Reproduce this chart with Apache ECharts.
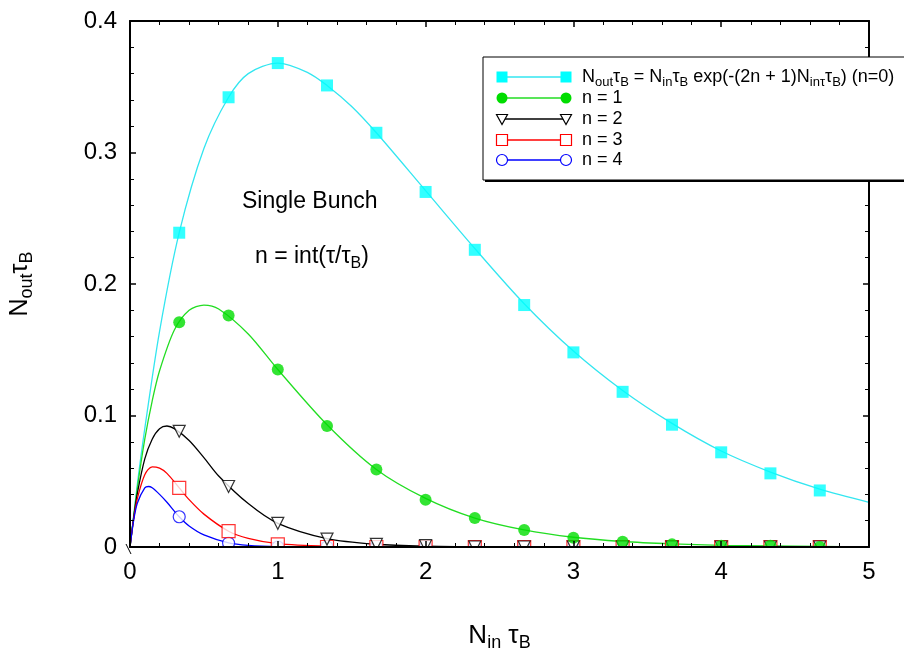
<!DOCTYPE html>
<html><head><meta charset="utf-8">
<script src="https://cdn.jsdelivr.net/npm/echarts@6/dist/echarts.min.js"></script>
<style>html,body{margin:0;padding:0;background:#fff}#c{width:904px;height:659px}</style>
</head><body><div id="c"></div>
<script>
// Marker positions (N_in tau_B) and values
const markerX = [0.333, 0.667, 1.0, 1.333, 1.667, 2.0, 2.333, 2.667, 3.0, 3.333, 3.667, 4.0, 4.333, 4.667];
const mark0 = [0.239, 0.342, 0.368, 0.351, 0.315, 0.270, 0.226, 0.184, 0.148, 0.118, 0.093, 0.072, 0.056, 0.043];
const mark1 = [0.171, 0.176, 0.135, 0.092, 0.059, 0.036, 0.022, 0.013, 0.007, 0.004, 0.002, 0.001, 0.001, 0.000];
const mark2 = [0.088, 0.046, 0.018, 0.006, 0.002, 0.001, 0.000, 0.000, 0.000, 0.000, 0.000, 0.000, 0.000, 0.000];
const mark3 = [0.045, 0.012, 0.002, 0.000, 0.000, 0.000, 0.000, 0.000, 0.000, 0.000, 0.000, 0.000, 0.000, 0.000];
const mark4 = [0.023, 0.003, 0.000, 0.000, 0.000, 0.000, 0.000, 0.000, 0.000, 0.000, 0.000, 0.000, 0.000, 0.000];

// Curve samples
const curve0X = [0, 0.05, 0.1, 0.2, 0.333, 0.5, 0.667, 0.8, 1.0, 1.2, 1.333, 1.5, 1.667, 2.0, 2.333, 2.667, 3.0, 3.333, 3.667, 4.0, 4.333, 4.667, 5.0];
const curve0Y = [0, 0.048, 0.090, 0.164, 0.239, 0.303, 0.342, 0.360, 0.368, 0.361, 0.351, 0.335, 0.315, 0.271, 0.227, 0.185, 0.149, 0.119, 0.094, 0.073, 0.057, 0.044, 0.034];
const curve1X = [0, 0.05, 0.1, 0.15, 0.2, 0.3, 0.4, 0.5, 0.6, 0.8, 1.0, 1.333, 1.667, 2.0, 2.333, 2.667, 3.0, 3.333, 3.667, 4.0, 4.333, 4.667, 5.0];
const curve1Y = [0, 0.045, 0.082, 0.111, 0.134, 0.165, 0.180, 0.184, 0.181, 0.162, 0.135, 0.093, 0.059, 0.037, 0.022, 0.013, 0.0074, 0.0042, 0.0024, 0.0013, 0.0008, 0.0004, 0.0002];
const curve2X = [0, 0.025, 0.05, 0.1, 0.15, 0.2, 0.25, 0.3, 0.4, 0.5, 0.6, 0.8, 1.0, 1.333, 1.667, 2.0, 2.5, 3.0, 4.0, 5.0];
const curve2Y = [0, 0.0226, 0.041, 0.067, 0.082, 0.090, 0.092, 0.090, 0.081, 0.068, 0.054, 0.033, 0.018, 0.0064, 0.0021, 0.0007, 0.0001, 0, 0, 0];
const curve3X = [0, 0.025, 0.05, 0.1, 0.15, 0.2, 0.25, 0.333, 0.4, 0.5, 0.667, 0.8, 1.0, 1.333, 1.667, 2.0, 3.0, 4.0, 5.0];
const curve3Y = [0, 0.0215, 0.037, 0.055, 0.061, 0.060, 0.056, 0.045, 0.036, 0.025, 0.012, 0.0066, 0.0025, 0.0005, 0.0001, 0, 0, 0, 0];
const curve4X = [0, 0.025, 0.05, 0.1, 0.125, 0.15, 0.2, 0.25, 0.333, 0.4, 0.5, 0.667, 0.8, 1.0, 1.333, 2.0, 3.0, 4.0, 5.0];
const curve4Y = [0, 0.0205, 0.0335, 0.045, 0.046, 0.045, 0.040, 0.034, 0.023, 0.016, 0.0092, 0.0032, 0.0013, 0.0003, 0, 0, 0, 0, 0];

const xTicks = [0, 1, 2, 3, 4, 5];
const yTicks = [0, 0.1, 0.2, 0.3, 0.4];

const pair = (xs, ys) => xs.map((x, i) => [x, ys[i]]);

const chart = echarts.init(document.getElementById('c'));
const F = 'Liberation Sans, Arial, sans-serif';

const axisCommon = {
  type: 'value', z: 100,
  axisLine: {show: true, onZero: false, lineStyle: {color: '#000', width: 2}},
  axisTick: {show: true, inside: true, length: 6, lineStyle: {color: '#000', width: 1.5}},
  minorTick: {show: true, splitNumber: 5, length: 4, lineStyle: {color: '#000', width: 1}},
  splitLine: {show: false},
};

const colors = ['#00FFFF', '#00DD00', '#000000', '#FF0000', '#0000FF'];
const lineColors = ['#33E6F0', '#22DD22', '#000000', '#FF0000', '#0000FF'];
const curves = [pair(curve0X, curve0Y), pair(curve1X, curve1Y), pair(curve2X, curve2Y), pair(curve3X, curve3Y), pair(curve4X, curve4Y)];
const marks = [mark0, mark1, mark2, mark3, mark4];
const names = ['n = 0', 'n = 1', 'n = 2', 'n = 3', 'n = 4'];
const symbols = ['rect', 'circle', 'triangle', 'rect', 'circle'];
const sizes = [12, 12, 12, 13, 12];
const filled = [true, true, false, false, false];

const series = [];
for (let i = 0; i < 5; i++) {
  series.push({
    name: names[i] + ' curve', type: 'line', smooth: 0.3, showSymbol: false, silent: true,
    data: curves[i], lineStyle: {color: lineColors[i], width: 1.3}, z: 2,
  });
}
for (let i = 4; i >= 0; i--) {
  series.push({
    name: names[i], type: 'scatter', symbol: symbols[i], symbolSize: sizes[i],
    symbolRotate: i === 2 ? 180 : 0,
    data: pair(markerX, marks[i]),
    itemStyle: filled[i] ? {color: colors[i]} : {color: '#fff', borderColor: colors[i], borderWidth: 1.2},
    z: 3,
  });
}

// legend drawn as graphic (symbols at both ends of the line sample)
const legItems = [];
const lx0 = 502, lx1 = 566;
const legRows = [77, 98, 119, 140, 160];
const legTexts = [
  'N{sub|out}τ{sub|B} = N{sub|in}τ{sub|B} exp(-(2n + 1)N{sub|inτ}τ{sub|B}) (n=0)',
  'n = 1', 'n = 2', 'n = 3', 'n = 4'
];
legItems.push({type: 'rect', shape: {x: 485, y: 59, width: 430, height: 123}, style: {fill: '#000'}, z: 200});
legItems.push({type: 'rect', shape: {x: 483, y: 57, width: 430, height: 123}, style: {fill: '#fff', stroke: '#000', lineWidth: 1}, z: 201});
function sym(i, cx, cy) {
  const s = 5.5;
  const st = filled[i] ? {fill: colors[i]} : {fill: '#fff', stroke: colors[i], lineWidth: 1.2};
  if (symbols[i] === 'rect') return {type: 'rect', shape: {x: cx - s, y: cy - s, width: 2 * s, height: 2 * s}, style: st, z: 203};
  if (symbols[i] === 'circle') return {type: 'circle', shape: {cx: cx, cy: cy, r: s}, style: st, z: 203};
  return {type: 'polygon', shape: {points: [[cx - s, cy - s + 1], [cx + s, cy - s + 1], [cx, cy + s]]}, style: st, z: 203};
}
for (let i = 0; i < 5; i++) {
  const y = legRows[i];
  legItems.push({type: 'line', shape: {x1: lx0, y1: y, x2: lx1, y2: y}, style: {stroke: lineColors[i], lineWidth: 1.3}, z: 202});
  legItems.push(sym(i, lx0, y));
  legItems.push(sym(i, lx1, y));
  legItems.push({type: 'text', x: 582, y: y, style: {text: legTexts[i], font: '18px ' + F, fill: '#000', verticalAlign: 'middle', rich: {sub: {fontSize: 13, fontFamily: F, fill: '#000', padding: [11, 0, 0, 0]}}}, z: 203});
}

chart.setOption({
  animation: false,
  backgroundColor: '#fff',
  grid: [{left: 130, right: 35, top: 21, bottom: 112, containLabel: false, outerBoundsMode: 'none'}],
  xAxis: [
    Object.assign({}, axisCommon, {min: 0, max: 5, interval: 1, position: 'bottom',
      axisLabel: {color: '#000', fontSize: 24, fontFamily: F, margin: 13, formatter: v => xTicks.includes(v) ? String(v) : ''},
      name: 'N{sub|in} τ{sub|B}', nameLocation: 'middle', nameGap: 73,
      nameTextStyle: {color: '#000', fontSize: 26, fontFamily: F, rich: {sub: {fontSize: 18, fontFamily: F, color: '#000', padding: [14, 0, 0, 0]}}}}),
    Object.assign({}, axisCommon, {min: 0, max: 5, interval: 1, position: 'top', axisLabel: {show: false}}),
  ],
  yAxis: [
    Object.assign({}, axisCommon, {min: 0, max: 0.4, interval: 0.1, position: 'left',
      axisLabel: {color: '#000', fontSize: 24, fontFamily: F, margin: 13, formatter: v => (yTicks.some(t => Math.abs(t - v) < 1e-9) ? (v === 0 ? '0' : v.toFixed(1)) : '')},
      name: 'N{sub|out}τ{sub|B}', nameLocation: 'middle', nameGap: 94, nameRotate: 90,
      nameTextStyle: {color: '#000', fontSize: 25, fontFamily: F, rich: {sub: {fontSize: 18, fontFamily: F, color: '#000', padding: [14, 0, 0, 0]}}}}),
    Object.assign({}, axisCommon, {min: 0, max: 0.4, interval: 0.1, position: 'right', axisLabel: {show: false}}),
  ],
  series: series,
  graphic: legItems.concat([
    // mask below the x axis so markers sitting on it look clipped to the plot area
    {type: 'rect', shape: {x: 128, y: 548, width: 744, height: 8}, style: {fill: '#fff'}, z: 50},
    {type: 'line', shape: {x1: 126, y1: 544, x2: 131, y2: 554}, style: {stroke: '#000', lineWidth: 1}, z: 101},
    {type: 'text', x: 242, y: 202, style: {text: 'Single Bunch', font: '23px ' + F, fill: '#000', verticalAlign: 'middle'}, z: 5},
    {type: 'text', x: 255, y: 257, style: {text: 'n = int(τ/τ{sub|B})', font: '23px ' + F, fill: '#000', verticalAlign: 'middle', rich: {sub: {fontSize: 16, fontFamily: F, fill: '#000', padding: [14, 0, 0, 0]}}}, z: 5},
  ]),
});
</script></body></html>
